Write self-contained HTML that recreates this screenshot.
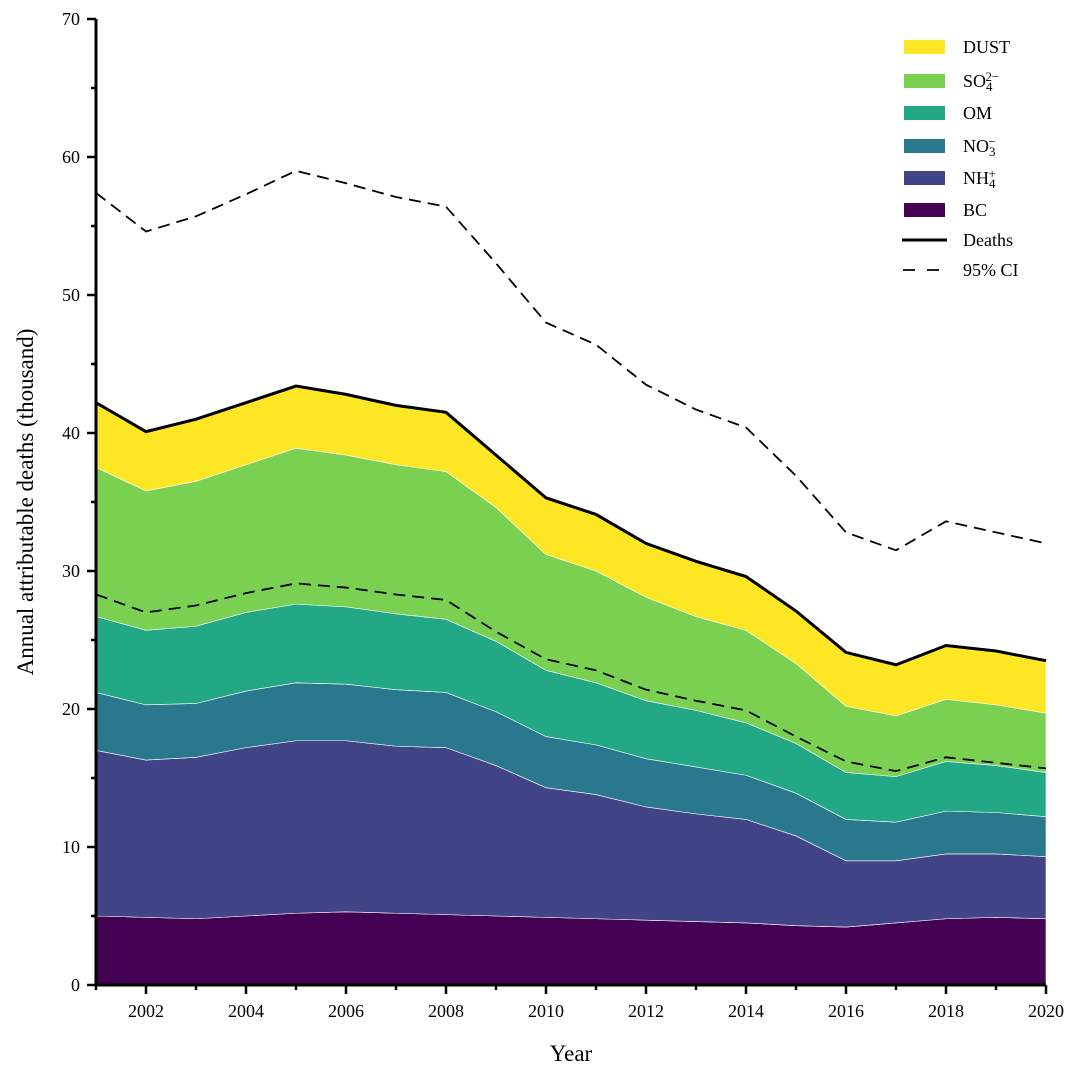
<!DOCTYPE html>
<html><head><meta charset="utf-8"><style>
html,body{margin:0;padding:0;background:#fff;}
svg{display:block;font-family:"Liberation Serif",serif;}
</style></head><body>
<svg id="chart" width="1080" height="1080" viewBox="0 0 1080 1080" xmlns="http://www.w3.org/2000/svg"></svg>
<script>
const years=[2001,2002,2003,2004,2005,2006,2007,2008,2009,2010,2011,2012,2013,2014,2015,2016,2017,2018,2019,2020];
const bc=[5.0,4.9,4.8,5.0,5.2,5.3,5.2,5.1,5.0,4.9,4.8,4.7,4.6,4.5,4.3,4.2,4.5,4.8,4.9,4.8];
const nh4=[12.0,11.4,11.7,12.2,12.5,12.4,12.1,12.1,10.9,9.4,9.0,8.2,7.8,7.5,6.5,4.8,4.5,4.7,4.6,4.5];
const no3=[4.2,4.0,3.9,4.1,4.2,4.1,4.1,4.0,3.9,3.7,3.6,3.5,3.4,3.2,3.1,3.0,2.8,3.1,3.0,2.9];
const om=[5.5,5.4,5.6,5.7,5.7,5.6,5.5,5.3,5.1,4.8,4.5,4.2,4.1,3.8,3.6,3.4,3.3,3.6,3.4,3.2];
const so4=[10.8,10.1,10.5,10.7,11.3,11.0,10.8,10.7,9.7,8.4,8.1,7.5,6.8,6.7,5.8,4.8,4.4,4.5,4.4,4.3];
const dust=[4.7,4.3,4.5,4.5,4.5,4.4,4.3,4.3,3.8,4.1,4.1,3.9,4.0,3.9,3.8,3.9,3.7,3.9,3.9,3.8];
const ciUpper=[57.4,54.6,55.7,57.3,59.0,58.1,57.1,56.4,52.3,48.0,46.4,43.5,41.7,40.4,36.9,32.8,31.5,33.6,32.8,32.0];
const ciLower=[28.3,27.0,27.5,28.4,29.1,28.8,28.3,27.9,25.6,23.6,22.8,21.4,20.6,19.9,18.0,16.2,15.5,16.5,16.1,15.7];
const yTicks=[0,10,20,30,40,50,60,70];
const xTickLabels=[2002,2004,2006,2008,2010,2012,2014,2016,2018,2020];

const NS="http://www.w3.org/2000/svg";
const svg=document.getElementById('chart');
const X0=96,X1=1046,Y0=985,Y1=19;
const xs=v=>X0+(v-2001)/(2020-2001)*(X1-X0);
const ys=v=>Y0-v/70*(Y0-Y1);
function mk(tag,attrs,parent){const e=document.createElementNS(NS,tag);for(const k in attrs)e.setAttribute(k,attrs[k]);(parent||svg).appendChild(e);return e;}

const layers=[["bc",bc,"#440154"],["nh4",nh4,"#414487"],["no3",no3,"#2a788e"],["om",om,"#22a884"],["so4",so4,"#7ad151"],["dust",dust,"#fde725"]];
let base=years.map(()=>0);
const gA=mk('g',{});


layers.forEach(([name,vals,col])=>{
  const top=base.map((b,i)=>b+vals[i]);
  let d=years.map((y,i)=>(i?'L':'M')+xs(y)+','+ys(top[i])).join('');
  for(let i=years.length-1;i>=0;i--)d+='L'+xs(years[i])+','+ys(base[i]);
  const p=mk('path',{d:d+'Z',fill:col,stroke:'#fff','stroke-width':0.6},gA);
  
  
  base=top;
});
const total=base;
function line(vals,dash,name,w){
  const d=years.map((y,i)=>(i?'L':'M')+xs(y)+','+ys(vals[i])).join('');
  const p=mk('path',{d:d,fill:'none',stroke:'#000','stroke-width':w,'stroke-dasharray':dash||'none'});
  
  
}
line(total,null,'deaths-line',3);
line(ciUpper,'12,7','ci-upper-line',1.8);
line(ciLower,'12,7','ci-lower-line',1.8);

// axes
const ax=mk('g',{});


mk('line',{x1:X0,y1:Y1,x2:X0,y2:Y0+1.5,stroke:'#000','stroke-width':3},ax);
mk('line',{x1:X0-1.5,y1:Y0,x2:X1,y2:Y0,stroke:'#000','stroke-width':3},ax);
for(let v=0;v<=70;v+=5){
  const major=v%10===0;
  mk('line',{x1:X0,x2:X0-(major?9:5),y1:ys(v),y2:ys(v),stroke:'#000','stroke-width':2.5},ax);
}
yTicks.forEach(v=>{
  const t=mk('text',{x:X0-16,y:ys(v)+6,'text-anchor':'end','font-size':18},ax);
  t.textContent=v;
  
  
});
years.forEach(y=>{
  const major=y%2===0;
  mk('line',{x1:xs(y),x2:xs(y),y1:Y0,y2:Y0+(major?9:5),stroke:'#000','stroke-width':2.5},ax);
});
xTickLabels.forEach(y=>{
  const t=mk('text',{x:xs(y),y:Y0+32,'text-anchor':'middle','font-size':18},ax);
  t.textContent=y;
  
  
});
const xt=mk('text',{x:571,y:1061,'text-anchor':'middle','font-size':23});
xt.textContent='Year';


const yt=mk('text',{x:0,y:0,'text-anchor':'middle','font-size':23,transform:'translate(33,502) rotate(-90)'});
yt.textContent='Annual attributable deaths (thousand)';



// legend
const lg=mk('g',{});


const entries=[["DUST","#fde725",47,"DUST"],["SO4","#7ad151",81,"SO<tspan baseline-shift='-30%' font-size='13'>4</tspan><tspan dx='-7' baseline-shift='45%' font-size='13'>2−</tspan>"],["OM","#22a884",113,"OM"],["NO3","#2a788e",146,"NO<tspan baseline-shift='-30%' font-size='13'>3</tspan><tspan dx='-7' baseline-shift='45%' font-size='13'>−</tspan>"],["NH4","#414487",178,"NH<tspan baseline-shift='-30%' font-size='13'>4</tspan><tspan dx='-7' baseline-shift='45%' font-size='13'>+</tspan>"],["BC","#440154",210,"BC"]];
entries.forEach(([n,c,y,html])=>{
  const g=mk('g',{},lg);
  
  
  mk('rect',{x:904,y:y-7,width:41,height:14,fill:c},g);
  const t=mk('text',{x:963,y:y+6,'font-size':18},g);
  t.innerHTML=html;
});
const g1=mk('g',{},lg);


mk('line',{x1:902,x2:947,y1:240,y2:240,stroke:'#000','stroke-width':3},g1);
mk('text',{x:963,y:246,'font-size':18},g1).textContent='Deaths';
const g2=mk('g',{},lg);


mk('line',{x1:903,x2:947,y1:270,y2:270,stroke:'#000','stroke-width':1.8,'stroke-dasharray':'12,12'},g2);
mk('text',{x:963,y:276,'font-size':18},g2).textContent='95% CI';
</script>
</body></html>
